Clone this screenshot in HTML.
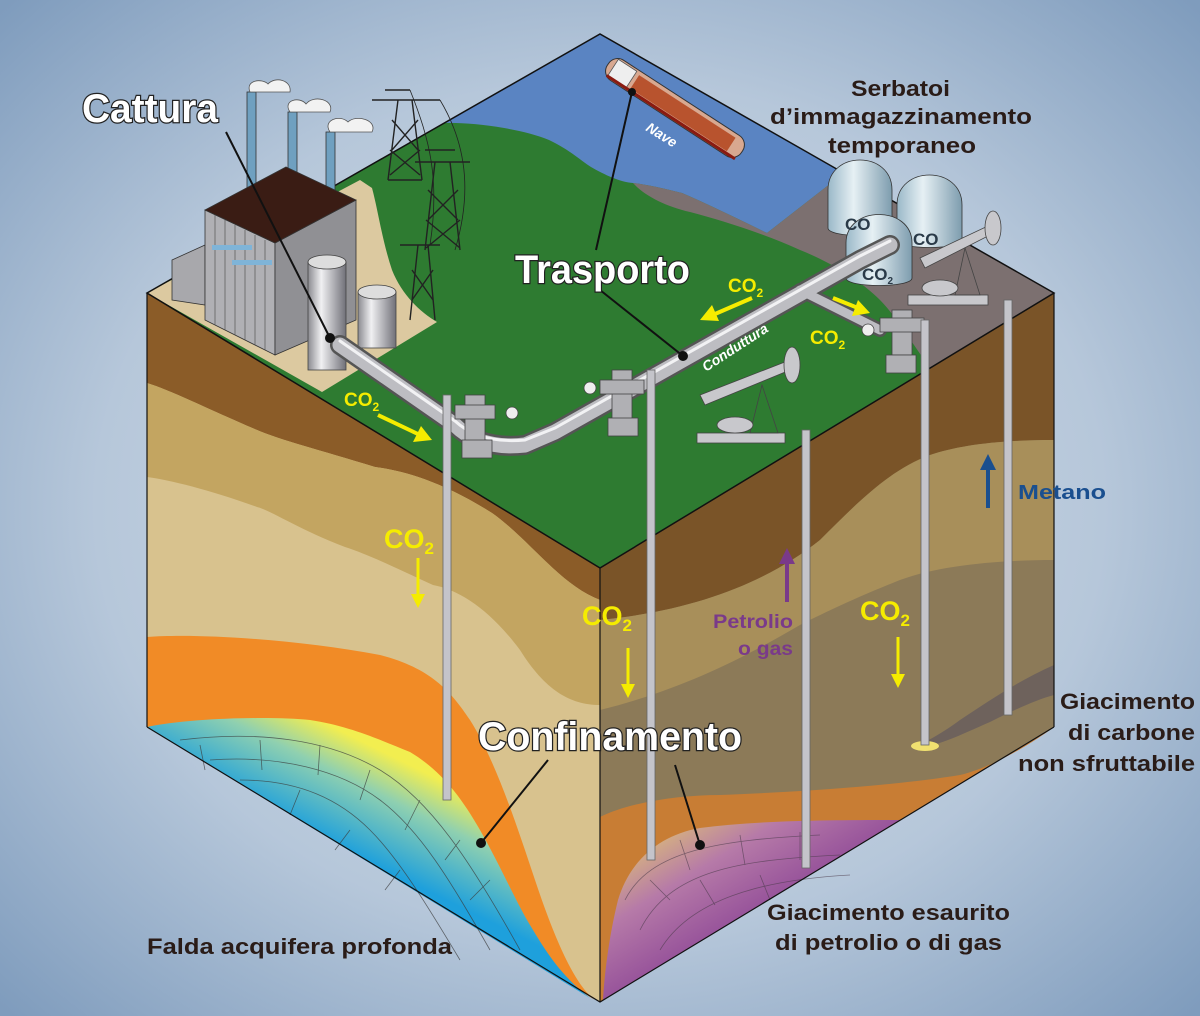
<!DOCTYPE html>
<html><head><meta charset="utf-8"><style>
html,body{margin:0;padding:0;width:1200px;height:1016px;overflow:hidden}
svg{display:block}
text{font-family:"Liberation Sans",sans-serif;font-weight:bold}
</style></head><body>
<svg width="1200" height="1016" viewBox="0 0 1200 1016" xmlns="http://www.w3.org/2000/svg">
<defs>
<radialGradient id="bg" cx="50%" cy="50%" r="70%">
<stop offset="0" stop-color="#d6e0ea"/><stop offset="0.6" stop-color="#b6c7da"/><stop offset="1" stop-color="#7f9cbd"/>
</radialGradient>
<linearGradient id="aq" x1="0.2" y1="0.9" x2="0.75" y2="0.2">
<stop offset="0.55" stop-color="#1ea0dc"/><stop offset="0.78" stop-color="#8fd0b0"/><stop offset="0.92" stop-color="#f2ee50"/>
</linearGradient>
<linearGradient id="pu" x1="0" y1="0" x2="1" y2="1">
<stop offset="0" stop-color="#f0e060"/><stop offset="0.3" stop-color="#b67aa8"/><stop offset="0.7" stop-color="#7a2f8e"/>
</linearGradient>
<linearGradient id="cyl" x1="0" y1="0" x2="1" y2="0">
<stop offset="0" stop-color="#8a8a90"/><stop offset="0.35" stop-color="#f0f0f2"/><stop offset="1" stop-color="#707078"/>
</linearGradient>
<linearGradient id="dome" x1="0" y1="0" x2="1" y2="0">
<stop offset="0" stop-color="#9ab8c8"/><stop offset="0.4" stop-color="#e6f0f4"/><stop offset="1" stop-color="#7d9cae"/>
</linearGradient>
</defs>
<rect width="1200" height="1016" fill="url(#bg)"/>

<!-- LEFT FACE -->
<polygon points="147,293 600,568 600,1002 147,727" fill="#d8c28e"/>
<path d="M147,293 L600,568 L600,600 C560,585 530,540 492,513 C440,480 400,470 375,467 C320,450 280,440 257,430 C210,410 170,390 147,383 Z" fill="#8b5c28"/>
<path d="M147,383 C170,390 210,410 257,430 C280,440 320,450 375,467 C400,470 440,480 492,513 C530,540 560,585 600,600 L600,705 C570,705 545,690 520,650 C490,610 460,590 433,585 C400,570 370,555 345,547 C300,530 270,510 257,507 C210,490 170,480 147,477 Z" fill="#c3a561"/>
<path d="M147,637 C200,633 300,640 380,655 C430,668 450,690 470,720 C495,760 515,820 535,880 C555,940 575,985 595,1000 L147,727 Z" fill="#f18b26"/>
<path d="M147,727 C190,718 270,716 310,720 C350,726 380,740 410,752 C440,770 460,795 480,830 C500,865 515,900 530,925 C545,950 560,975 590,998 Z" fill="url(#aq)"/>
<g stroke="#3a3a3a" stroke-width="0.8" fill="none" opacity="0.7">
<path d="M180,740 C260,730 330,740 380,770 C430,800 470,860 520,950"/>
<path d="M210,760 C280,755 340,770 380,800 C420,830 450,880 490,950"/>
<path d="M240,780 C300,780 340,800 370,830 C400,860 430,910 460,960"/>
<path d="M200,745 L205,770 M260,740 L262,770 M320,745 L318,775 M370,770 L360,800 M420,800 L405,830 M460,840 L445,860 M490,880 L470,900 M300,790 L290,815 M350,830 L335,850 M400,870 L385,890"/>
</g>

<!-- RIGHT FACE -->
<polygon points="600,568 1054,293 1054,727 600,1002" fill="#8c7a58"/>
<path d="M600,568 L1054,293 L1054,440 C1000,440 960,445 930,455 C890,470 860,500 820,540 C770,580 700,610 600,620 Z" fill="#7a5428"/>
<path d="M600,620 C700,610 770,580 820,540 C860,500 890,470 930,455 C960,445 1000,440 1054,440 L1054,560 C1000,560 940,565 900,580 C850,600 820,615 800,625 C740,660 680,690 600,710 Z" fill="#a88f5a"/>
<path d="M600,817 C630,802 680,795 720,795 C800,792 900,785 960,775 C990,768 1030,745 1054,727 L600,1002 Z" fill="#c87d34"/>
<path d="M900,820 C840,820 760,820 700,828 C660,835 630,860 618,900 C608,940 604,980 603,1000 Z" fill="url(#pu)"/>
<g stroke="#4a3a4a" stroke-width="0.8" fill="none" opacity="0.6">
<path d="M625,900 C650,850 720,840 820,835"/><path d="M640,930 C670,870 740,860 840,855"/><path d="M660,950 C690,900 760,880 850,875"/>
<path d="M680,840 L690,870 M740,835 L745,865 M800,832 L800,860 M650,880 L670,900 M700,880 L715,905 M760,875 L770,900"/>
</g>
<path d="M1054,665 C1020,680 990,700 960,720 C940,735 920,745 912,748 C935,748 960,735 990,722 C1010,712 1035,700 1054,695 Z" fill="#6e625c"/>
<ellipse cx="925" cy="746" rx="14" ry="5" fill="#f0e070"/>

<!-- TOP FACE -->
<polygon points="147,293 600,34 1054,293 600,568" fill="#2e7b31"/>
<path d="M444,123 C470,122 520,128 549,140 C570,150 580,160 591,167 C605,175 620,182 633,183 C650,185 670,190 682,193 C710,205 740,220 767,233 L844,173 L600,34 Z" fill="#5a84c2"/>
<path d="M633,183 C650,185 670,190 682,193 C710,205 740,220 767,233 L844,173 L1054,293 L930,368 C910,340 895,315 880,300 C860,280 830,262 800,250 C760,232 720,220 690,212 C665,206 645,196 633,183 Z" fill="#7c7070"/>
<path d="M147,293 L360,180 L372,188 C378,210 382,240 392,270 C402,295 420,312 437,322 L322,392 Z" fill="#dcc9a0"/>
<polygon points="147,293 600,34 1054,293 600,568" fill="none" stroke="#111" stroke-width="1.5"/>
<line x1="147" y1="293" x2="147" y2="727" stroke="#111" stroke-width="1.2"/>
<line x1="1054" y1="293" x2="1054" y2="727" stroke="#111" stroke-width="1.2"/>
<line x1="600" y1="568" x2="600" y2="1002" stroke="#111" stroke-width="1.2"/>
<polyline points="147,727 600,1002 1054,727" fill="none" stroke="#111" stroke-width="1.2"/>

<!-- ship -->
<g transform="translate(675,108) rotate(33)">
<rect x="-80" y="-12" width="160" height="24" rx="11" fill="#d8a890" stroke="#333" stroke-width="1"/>
<rect x="-48" y="-8" width="115" height="16" fill="#b8532e"/>
<rect x="-74" y="-10" width="22" height="20" fill="#eee" stroke="#555" stroke-width="0.8"/>
<path d="M-75,10 L78,10" stroke="#8a1a10" stroke-width="3"/>
</g>

<!-- pylons -->
<g stroke="#222" stroke-width="1.4" fill="none">
<path d="M385,90 L410,90 M372,100 L440,100 M398,100 L388,180 M412,100 L422,180 M388,180 L422,180 M392,120 L418,150 M418,120 L392,150 M390,150 L420,175 M420,150 L390,175"/>
<path d="M425,150 L455,150 M415,162 L470,162 M435,162 L425,250 M450,162 L460,250 M428,190 L458,220 M458,190 L428,220 M426,220 L460,248 M460,220 L426,248"/>
<path d="M400,245 L440,245 M418,245 L410,320 M428,245 L435,320 M412,270 L433,300 M433,270 L412,300"/>
<path d="M410,90 C430,140 440,180 430,245 M440,100 C470,150 470,200 455,250" stroke-width="0.8"/>
</g>

<!-- factory -->
<g>
<rect x="247" y="92" width="9" height="120" fill="#6fa0c0" stroke="#333" stroke-width="0.8"/>
<rect x="288" y="112" width="9" height="100" fill="#6fa0c0" stroke="#333" stroke-width="0.8"/>
<rect x="326" y="132" width="9" height="90" fill="#6fa0c0" stroke="#333" stroke-width="0.8"/>
<g fill="#f2f2f2" stroke="#555" stroke-width="0.8">
<path d="M250,92 C245,80 262,78 268,84 C275,76 292,80 290,92 Z"/>
<path d="M290,112 C282,100 300,96 306,104 C314,94 335,100 330,112 Z"/>
<path d="M330,132 C322,120 340,114 348,122 C356,114 378,120 372,132 Z"/>
</g>
<polygon points="172,260 205,245 205,305 172,300" fill="#a8a8ac" stroke="#333" stroke-width="0.8"/>
<polygon points="205,210 275,243 275,355 205,320" fill="#b0b0b4" stroke="#333" stroke-width="0.8"/>
<polygon points="275,243 356,200 356,320 275,355" fill="#909094" stroke="#333" stroke-width="0.8"/>
<polygon points="205,210 286,167 356,200 275,243" fill="#3a1c14" stroke="#333" stroke-width="0.8"/>
<g stroke="#555" stroke-width="0.7"><path d="M215,215 L215,325 M225,220 L225,330 M235,225 L235,335 M245,230 L245,340 M255,235 L255,345 M265,240 L265,350"/></g>
<rect x="212" y="245" width="40" height="5" fill="#7fb4d8"/>
<rect x="232" y="260" width="40" height="5" fill="#7fb4d8"/>
<rect x="308" y="262" width="38" height="108" fill="url(#cyl)" stroke="#444" stroke-width="0.8"/>
<ellipse cx="327" cy="262" rx="19" ry="7" fill="#ddd" stroke="#444" stroke-width="0.8"/>
<rect x="358" y="292" width="38" height="56" fill="url(#cyl)" stroke="#444" stroke-width="0.8"/>
<ellipse cx="377" cy="292" rx="19" ry="7" fill="#ddd" stroke="#444" stroke-width="0.8"/>
</g>

<!-- tanks -->
<g stroke="#333" stroke-width="0.8">
<path d="M828,190 C828,150 892,150 892,190 L892,228 C892,238 828,238 828,228 Z" fill="url(#dome)"/>
<path d="M897,205 C897,165 962,165 962,205 L962,240 C962,250 897,250 897,240 Z" fill="url(#dome)"/>
<path d="M846,243 C846,205 912,205 912,243 L912,278 C912,288 846,288 846,278 Z" fill="url(#dome)"/>
</g>
<g font-size="17" fill="#2a3a48" font-weight="normal">
<text x="845" y="230">CO</text><text x="913" y="245">CO</text><text x="862" y="280">CO<tspan font-size="10" dy="4">2</tspan></text>
</g>

<!-- pipeline -->
<g fill="none" stroke-linecap="round" stroke-linejoin="round">
<path d="M340,345 L455,425 Q480,450 525,445 L555,432 L860,260 L890,245" stroke="#555" stroke-width="20"/>
<path d="M800,290 L880,330" stroke="#555" stroke-width="14"/>
<path d="M340,345 L455,425 Q480,450 525,445 L555,432 L860,260 L890,245" stroke="#bdbdc2" stroke-width="15"/>
<path d="M800,290 L880,330" stroke="#bdbdc2" stroke-width="9"/>
<path d="M340,341 L455,421 Q480,444 525,440 L555,428 L860,256 L890,241" stroke="#f2f2f4" stroke-width="3"/>
</g>

<!-- wellheads -->
<g fill="#b0b0b4" stroke="#444" stroke-width="0.8">
<rect x="465" y="395" width="20" height="50"/><rect x="455" y="405" width="40" height="14"/><rect x="462" y="440" width="30" height="18"/>
<circle cx="512" cy="413" r="6" fill="#eee"/>
<rect x="612" y="370" width="20" height="50"/><rect x="600" y="380" width="44" height="14"/><rect x="608" y="418" width="30" height="18"/>
<circle cx="590" cy="388" r="6" fill="#eee"/>
<rect x="892" y="310" width="20" height="45"/><rect x="880" y="318" width="44" height="14"/><rect x="886" y="355" width="30" height="18"/>
<circle cx="868" cy="330" r="6" fill="#eee"/>
</g>

<!-- pump jacks -->
<g fill="#c8c8cc" stroke="#444" stroke-width="0.8">
<rect x="697" y="433" width="88" height="10"/>
<path d="M750,433 L762,385 L778,433 Z" fill="none"/>
<path d="M700,395 L790,360 L795,368 L705,405 Z"/>
<ellipse cx="792" cy="365" rx="8" ry="18"/>
<ellipse cx="735" cy="425" rx="18" ry="8"/>
<rect x="908" y="295" width="80" height="10"/>
<path d="M955,295 L965,248 L980,295 Z" fill="none"/>
<path d="M920,258 L990,225 L994,233 L925,268 Z"/>
<ellipse cx="993" cy="228" rx="8" ry="17"/>
<ellipse cx="940" cy="288" rx="18" ry="8"/>
</g>

<!-- wells -->
<g>
<rect x="443" y="395" width="8" height="405" fill="#c4c4ca" stroke="#666" stroke-width="0.8"/>
<rect x="647" y="370" width="8" height="490" fill="#c4c4ca" stroke="#666" stroke-width="0.8"/>
<rect x="802" y="430" width="8" height="438" fill="#c4c4ca" stroke="#666" stroke-width="0.8"/>
<rect x="921" y="320" width="8" height="425" fill="#c4c4ca" stroke="#666" stroke-width="0.8"/>
<rect x="1004" y="300" width="8" height="415" fill="#c4c4ca" stroke="#666" stroke-width="0.8"/>
</g>

<!-- pointer lines -->
<g stroke="#111" stroke-width="2" fill="#111">
<line x1="226" y1="132" x2="330" y2="338"/><circle cx="330" cy="338" r="4"/>
<line x1="632" y1="92" x2="596" y2="250"/><circle cx="632" cy="92" r="3"/>
<line x1="600" y1="290" x2="683" y2="356"/><circle cx="683" cy="356" r="4"/>
<line x1="548" y1="760" x2="481" y2="843"/><circle cx="481" cy="843" r="4"/>
<line x1="675" y1="765" x2="700" y2="845"/><circle cx="700" cy="845" r="4"/>
</g>

<!-- arrows -->
<g fill="#f5ec00" stroke="#f5ec00">
<line x1="378" y1="415" x2="420" y2="435" stroke-width="4"/><polygon points="432,440 413,442 421,426" stroke="none"/>
<line x1="752" y1="298" x2="715" y2="314" stroke-width="4"/><polygon points="700,320 712,305 719,321" stroke="none"/>
<line x1="833" y1="298" x2="858" y2="308" stroke-width="4"/><polygon points="870,313 852,316 858,300" stroke="none"/>
<line x1="418" y1="558" x2="418" y2="595" stroke-width="3"/><polygon points="411,594 425,594 418,608" stroke="none"/>
<line x1="628" y1="648" x2="628" y2="685" stroke-width="3"/><polygon points="621,684 635,684 628,698" stroke="none"/>
<line x1="898" y1="637" x2="898" y2="675" stroke-width="3"/><polygon points="891,674 905,674 898,688" stroke="none"/>
</g>
<line x1="787" y1="602" x2="787" y2="562" stroke="#7a3a8a" stroke-width="4"/><polygon points="779,564 795,564 787,548" fill="#7a3a8a"/>
<line x1="988" y1="508" x2="988" y2="468" stroke="#1a4f8f" stroke-width="4"/><polygon points="980,470 996,470 988,454" fill="#1a4f8f"/>

<!-- text -->
<g fill="#f5ec00" font-weight="normal">
<text x="344" y="406" font-size="19">CO<tspan font-size="12" dy="5">2</tspan></text>
<text x="728" y="292" font-size="19">CO<tspan font-size="12" dy="5">2</tspan></text>
<text x="810" y="344" font-size="19">CO<tspan font-size="12" dy="5">2</tspan></text>
<text x="384" y="548" font-size="27">CO<tspan font-size="17" dy="6">2</tspan></text>
<text x="582" y="625" font-size="27">CO<tspan font-size="17" dy="6">2</tspan></text>
<text x="860" y="620" font-size="27">CO<tspan font-size="17" dy="6">2</tspan></text>
</g>
<g fill="#fff" stroke="#222" stroke-width="2.5" paint-order="stroke" font-size="40">
<text x="82" y="122" textLength="136" lengthAdjust="spacingAndGlyphs">Cattura</text>
<text x="515" y="283" textLength="175" lengthAdjust="spacingAndGlyphs">Trasporto</text>
<text x="478" y="750" textLength="264" lengthAdjust="spacingAndGlyphs">Confinamento</text>
</g>
<g fill="#fff" font-style="italic" font-weight="normal" font-size="14">
<text transform="translate(645,130) rotate(32)">Nave</text>
<text transform="translate(706,372) rotate(-33)">Conduttura</text>
</g>
<g fill="#2a1c18" font-size="22" font-weight="normal">
<text x="851" y="96" textLength="99" lengthAdjust="spacingAndGlyphs">Serbatoi</text>
<text x="770" y="124" textLength="262" lengthAdjust="spacingAndGlyphs">d’immagazzinamento</text>
<text x="828" y="153" textLength="148" lengthAdjust="spacingAndGlyphs">temporaneo</text>
<text x="1060" y="709" textLength="135" lengthAdjust="spacingAndGlyphs">Giacimento</text>
<text x="1068" y="740" textLength="127" lengthAdjust="spacingAndGlyphs">di carbone</text>
<text x="1018" y="771" textLength="177" lengthAdjust="spacingAndGlyphs">non sfruttabile</text>
<text x="767" y="920" textLength="243" lengthAdjust="spacingAndGlyphs">Giacimento esaurito</text>
<text x="775" y="950" textLength="227" lengthAdjust="spacingAndGlyphs">di petrolio o di gas</text>
<text x="147" y="954" textLength="305" lengthAdjust="spacingAndGlyphs">Falda acquifera profonda</text>
</g>
<text x="1018" y="499" font-size="20" fill="#1a4f8f" font-weight="normal" textLength="88" lengthAdjust="spacingAndGlyphs">Metano</text>
<g fill="#7a3a8a" font-size="19">
<text x="713" y="628" textLength="80" lengthAdjust="spacingAndGlyphs">Petrolio</text>
<text x="738" y="655" textLength="55" lengthAdjust="spacingAndGlyphs">o gas</text>
</g>
</svg>
</body></html>
